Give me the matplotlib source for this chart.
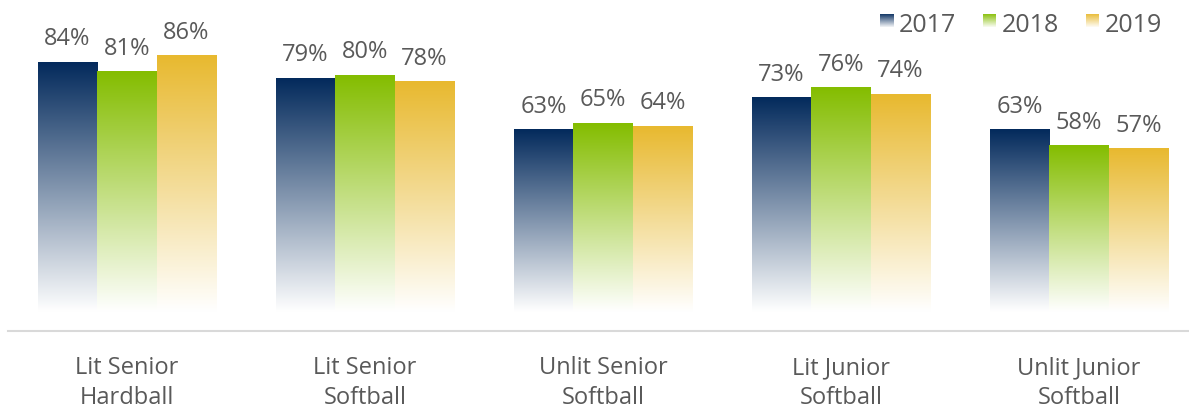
import numpy as np
import matplotlib
matplotlib.use("Agg")
import matplotlib.pyplot as plt
from matplotlib.colors import to_rgb

categories = ["Lit Senior\nHardball", "Lit Senior\nSoftball", "Unlit Senior\nSoftball",
              "Lit Junior\nSoftball", "Unlit Junior\nSoftball"]
years = ["2017", "2018", "2019"]
v2017 = [84, 79, 63, 73, 63]
v2018 = [81, 80, 65, 76, 58]
v2019 = [86, 78, 64, 74, 57]
series = [v2017, v2018, v2019]
colors = ["#032A5C", "#84BD00", "#E8B92F"]
text_color = "#595959"

plt.rcParams['font.family'] = ['Open Sans', 'DejaVu Sans']

W, H = 1189, 410
fig = plt.figure(figsize=(W / 100, H / 100), dpi=100)
ax = fig.add_axes([8 / W, (H - 331.5) / H, (W - 8) / W, 320 / H])

n = len(categories)
x = np.arange(n)
bw = 0.25
white_at = 6.0


def gradient_image(color, top, bottom_white, ny=300):
    c = np.array(to_rgb(color))
    ys = np.linspace(top, 0, ny)
    t = np.clip((ys - bottom_white) / (top - bottom_white), 0, 1)[:, None]
    img = 1 - t * (1 - c)
    return img[:, None, :]


for i, (vals, col) in enumerate(zip(series, colors)):
    pos = x + (i - 1) * bw
    bars = ax.bar(pos, vals, width=bw, color="none", edgecolor="none")
    for b, v in zip(bars, vals):
        x0 = b.get_x()
        img = gradient_image(col, v, white_at)
        im = ax.imshow(img, extent=[x0, x0 + bw, 0, v], aspect="auto",
                       interpolation="bilinear", zorder=2)
        im.set_clip_path(b)
        ax.annotate(f"{v}%", (b.get_x() + bw / 2, v), xytext=(0, 12.5),
                    textcoords="offset points", ha="center", va="baseline",
                    fontsize=17, color=text_color)

ax.set_xlim(-0.5, -0.5 + (W - 8) / 238)
ax.set_ylim(0, 100)
ax.set_xticks(x)
ax.set_xticklabels(categories, fontsize=17, color=text_color, linespacing=1.3)
ax.tick_params(axis="x", length=0, pad=18)
ax.set_yticks([])
for s in ["top", "right", "left"]:
    ax.spines[s].set_visible(False)
ax.spines["bottom"].set_color("#D9D9D9")
ax.spines["bottom"].set_linewidth(1.5)

# Legend with gradient swatches
leg_x = [880, 983, 1086]
for lx, col, yr in zip(leg_x, colors, years):
    lax = fig.add_axes([lx / W, (H - 28) / H, 13 / W, 13 / H])
    c = np.array(to_rgb(col))
    t = np.linspace(1, 0.05, 50)[:, None]
    img = (1 - t * (1 - c))[:, None, :]
    lax.imshow(img, extent=[0, 1, 0, 1], aspect="auto", interpolation="bilinear")
    lax.axis("off")
    fig.text((lx + 19) / W, (H - 31.5) / H, yr, fontsize=18, color=text_color,
             ha="left", va="baseline")

fig.savefig("out.png", dpi=100)
